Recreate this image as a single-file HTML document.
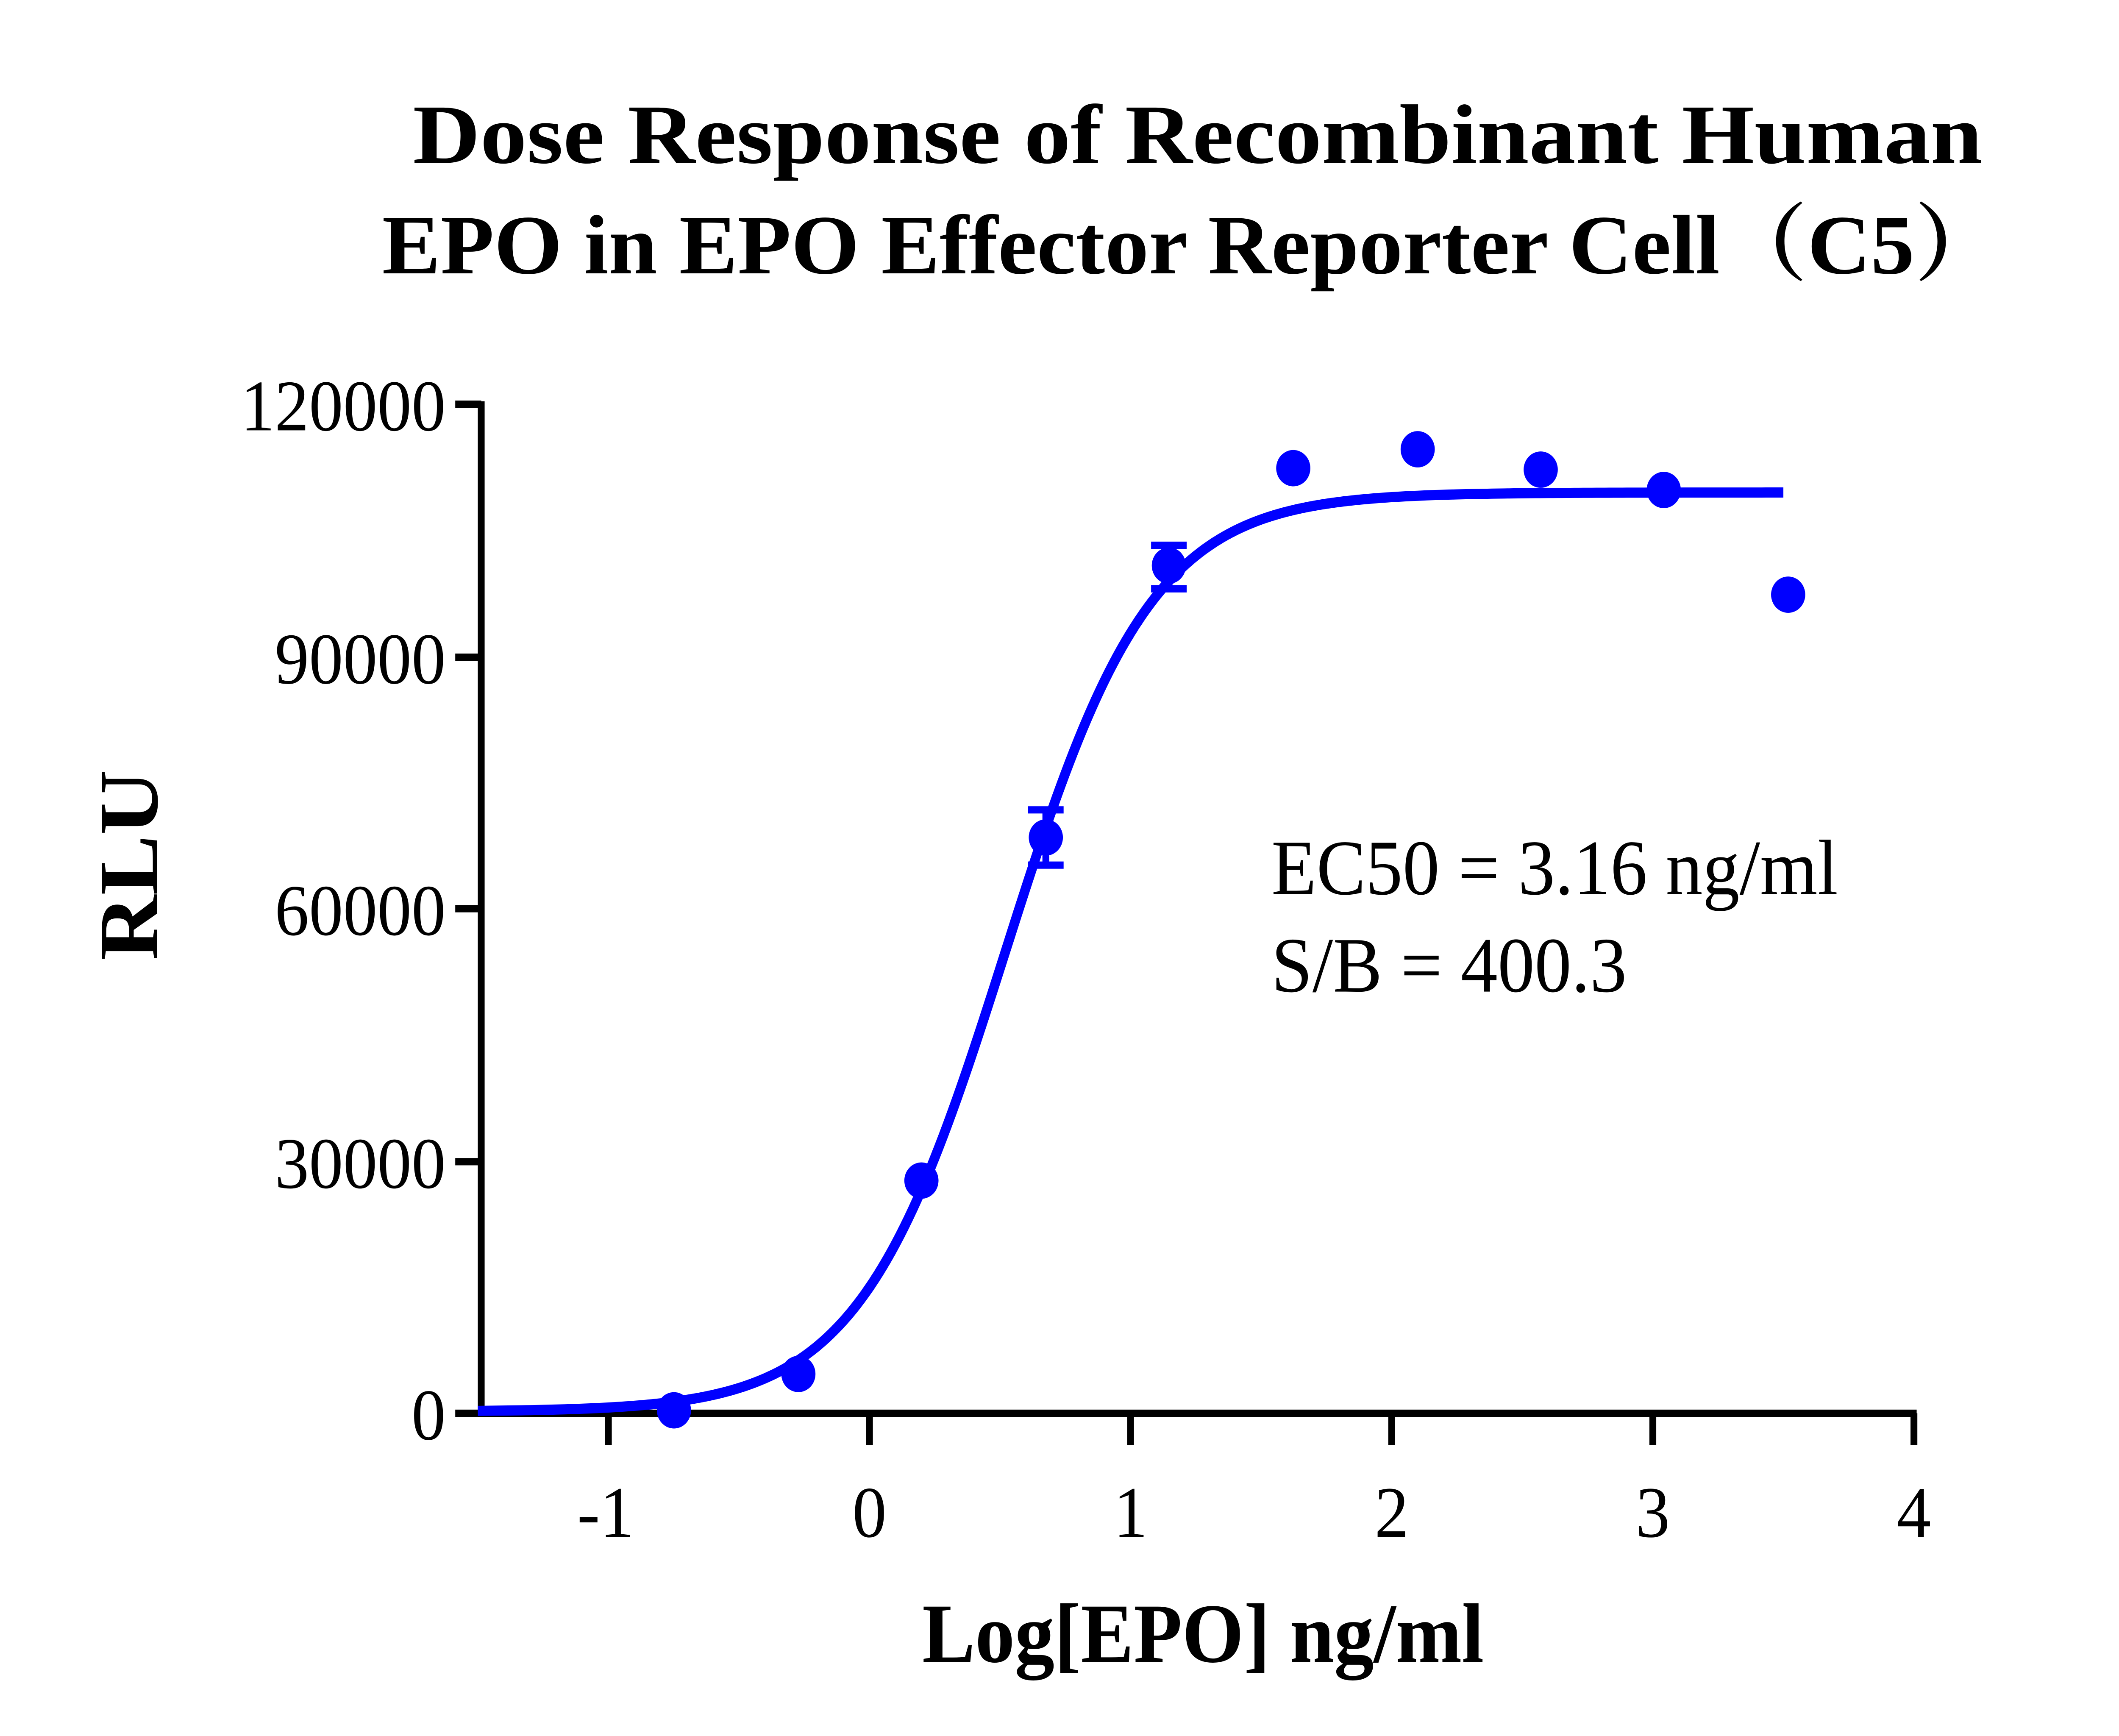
<!DOCTYPE html>
<html><head><meta charset="utf-8"><style>
html,body{margin:0;padding:0;background:#fff;width:100vw;height:100vh;overflow:hidden;}
svg{display:block;width:100vw;height:100vh;}
text{font-family:"Liberation Serif","Noto Serif CJK SC",serif;}
</style></head><body>
<svg viewBox="0 0 1550 1194" preserveAspectRatio="none" xmlns="http://www.w3.org/2000/svg">
<rect width="1550" height="1194" fill="#fff"/>
<text x="876" y="112" font-size="58" font-weight="bold" text-anchor="middle" textLength="1148" lengthAdjust="spacingAndGlyphs">Dose Response of Recombinant Human</text>
<text x="872" y="188" font-size="58" font-weight="bold" text-anchor="middle" textLength="1185" lengthAdjust="spacingAndGlyphs">EPO in EPO Effector Reporter Cell（C5）</text>
<g stroke="#000" stroke-width="5" fill="none">
<line x1="352" y1="276" x2="352" y2="974"/>
<line x1="350" y1="972" x2="1402" y2="972"/>
<line x1="333" y1="278" x2="352" y2="278"/>
<line x1="333" y1="452" x2="352" y2="452"/>
<line x1="333" y1="625" x2="352" y2="625"/>
<line x1="333" y1="799" x2="352" y2="799"/>
<line x1="333" y1="972" x2="352" y2="972"/>
<line x1="445" y1="972" x2="445" y2="994"/>
<line x1="636" y1="972" x2="636" y2="994"/>
<line x1="827" y1="972" x2="827" y2="994"/>
<line x1="1018" y1="972" x2="1018" y2="994"/>
<line x1="1209" y1="972" x2="1209" y2="994"/>
<line x1="1400" y1="972" x2="1400" y2="994"/>
</g>
<g font-size="50" text-anchor="end">
<text x="326" y="296">120000</text>
<text x="326" y="470">90000</text>
<text x="326" y="643">60000</text>
<text x="326" y="817">30000</text>
<text x="326" y="990">0</text>
</g>
<g font-size="50" text-anchor="middle">
<text x="443" y="1057">-1</text>
<text x="636" y="1057">0</text>
<text x="827" y="1057">1</text>
<text x="1018" y="1057">2</text>
<text x="1209" y="1057">3</text>
<text x="1400" y="1057">4</text>
</g>
<text x="880" y="1143" font-size="58" font-weight="bold" text-anchor="middle">Log[EPO] ng/ml</text>
<text transform="translate(115,595) rotate(-90)" font-size="62" font-weight="bold" text-anchor="middle">RLU</text>
<text x="930" y="615" font-size="54">EC50 = 3.16 ng/ml</text>
<text x="930" y="682" font-size="54">S/B = 400.3</text>
<path id="curve" fill="none" stroke="#0000ff" stroke-width="7" d=""/>
<g fill="#0000ff">
<circle cx="493" cy="970" r="12.5"/>
<circle cx="584" cy="945" r="12.5"/>
<circle cx="674" cy="812" r="12.5"/>
<circle cx="765" cy="576" r="12.5"/>
<circle cx="855" cy="389" r="12.5"/>
<circle cx="946" cy="322" r="12.5"/>
<circle cx="1037" cy="309" r="12.5"/>
<circle cx="1127" cy="323" r="12.5"/>
<circle cx="1217" cy="337" r="12.5"/>
<circle cx="1308" cy="409" r="12.5"/>
</g>
<g stroke="#0000ff" stroke-width="5">
<line x1="765" y1="557" x2="765" y2="595"/>
<line x1="752" y1="557" x2="778" y2="557"/>
<line x1="752" y1="595" x2="778" y2="595"/>
<line x1="855" y1="375" x2="855" y2="405"/>
<line x1="842" y1="375" x2="868" y2="375"/>
<line x1="842" y1="405" x2="868" y2="405"/>
</g>
<script>
(function(){
var d="";
for(var i=0;i<=300;i++){
var x=-1.5+i*(5.0)/300;
var v=200+109300/(1+Math.pow(10,(0.52-x)*1.55));
var px=636+x*191, py=972-v*694/120000;
d+=(i?"L":"M")+px.toFixed(2)+" "+py.toFixed(2);
}
document.getElementById("curve").setAttribute("d",d);
})();
</script>
</svg>
</body></html>
